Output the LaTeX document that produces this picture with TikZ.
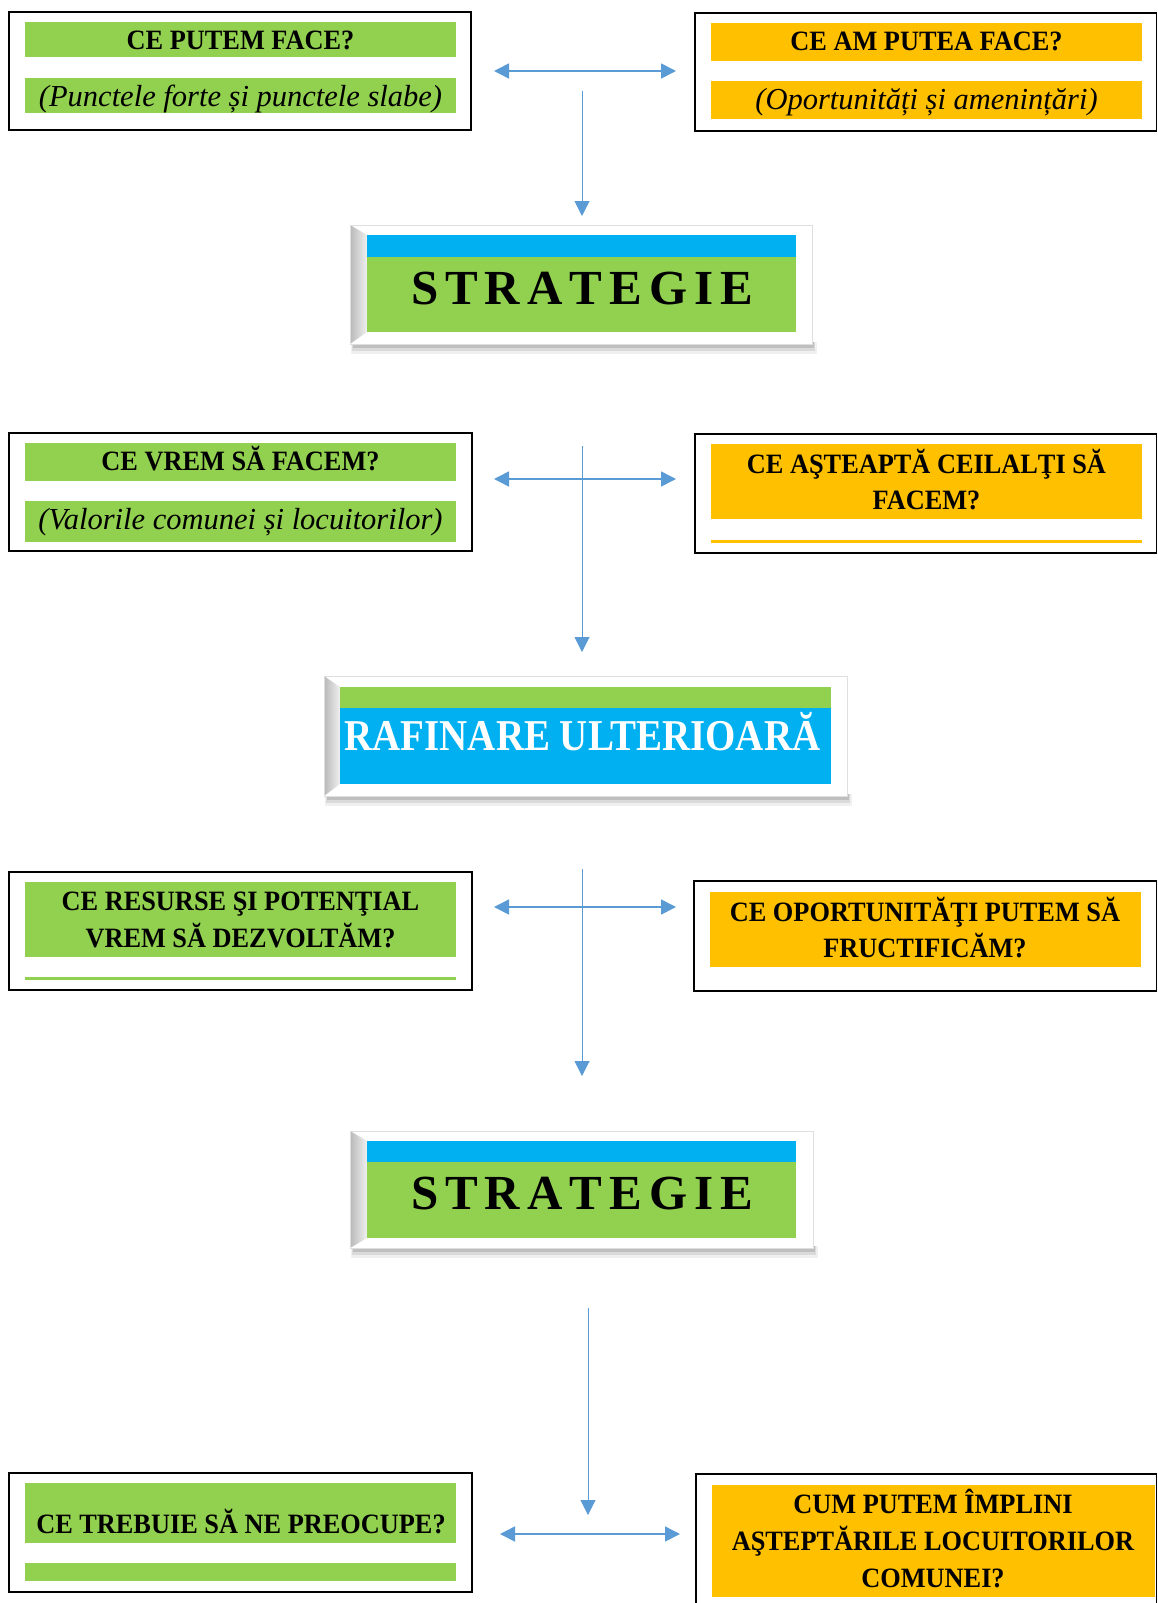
\documentclass[tikz,border=0pt]{standalone}
\usepackage{fontspec}
\setmainfont{Liberation Serif}
\newfontfamily\capfont[FakeStretch=0.94]{Liberation Serif}
\newfontfamily\rafifont[FakeStretch=0.885]{Liberation Serif}
\usetikzlibrary{arrows.meta}
\definecolor{cgreen}{HTML}{92D050}
\definecolor{corange}{HTML}{FFC000}
\definecolor{cblue}{HTML}{00B0F0}
\definecolor{carrow}{HTML}{5B9BD5}
\tikzset{
 qbox/.style={draw=black,line width=1.3pt,fill=white},
 gbar/.style={fill=cgreen},
 obar/.style={fill=corange},
 captxt/.style={anchor=base,inner sep=0pt,font=\capfont\bfseries\fontsize{28}{30}\selectfont},
 ittxt/.style={anchor=base,inner sep=0pt,font=\itshape\fontsize{30.5}{32}\selectfont},
 bigtxt/.style={anchor=base,inner sep=0pt,font=\bfseries\fontsize{49}{50}\selectfont},
 rafitxt/.style={anchor=base,inner sep=0pt,text=white,font=\rafifont\bfseries\fontsize{44}{46}\selectfont},
 harrow/.style={draw=carrow,line width=1.6pt,{Triangle[length=15pt,width=15pt]}-{Triangle[length=15pt,width=15pt]}},
 varrow/.style={draw=carrow,line width=1pt,-{Triangle[length=15pt,width=15pt]}},
}
\newcommand{\bevelfr}[8]{%
 \fill[black,opacity=0.06] (#1+1,#4-2) rectangle (#3+5,#4+10);
 \fill[black,opacity=0.09] (#1+2,#4-2) rectangle (#3+3,#4+7);
 \fill[black,opacity=0.12] (#1+3,#4-2) rectangle (#3+2,#4+4);
 \fill[white] (#1,#2) rectangle (#3,#4);
 \shade[left color=gray!55,right color=gray!12] (#1,#2) -- (#5,#6) -- (#5,#8) -- (#1,#4) -- cycle;
 \draw[gray!25,line width=0.6pt] (#1,#2) rectangle (#3,#4);
}
\newcommand{\strat}{S\kern7pt T\kern7pt R\kern7pt A\kern7pt T\kern7pt E\kern7pt G\kern7pt I\kern7pt E}
\begin{document}
\begin{tikzpicture}[x=1pt,y=-1pt]
\useasboundingbox (0,0) rectangle (1157,1603);
\clip (0,0) rectangle (1157,1603);
\fill[white] (0,0) rectangle (1157,1603);

% ---- section 1
\draw[qbox] (9,12) rectangle (471,130);
\fill[gbar] (25,22) rectangle (456,57);
\fill[gbar] (25,78) rectangle (456,113);
\node[captxt] (t1a) at (240.5,50) {CE PUTEM FACE?};
\node[ittxt] (t1b) at (240.5,106) {(Punctele forte și punctele slabe)};

\draw[qbox] (695,13) rectangle (1156.3,131);
\fill[obar] (711,23) rectangle (1142,61);
\fill[obar] (711,81) rectangle (1142,119);
\node[captxt] (t2a) at (926.5,51) {CE AM PUTEA FACE?};
\node[ittxt] (t2b) at (926.5,109) {(Oportunități și amenințări)};

\coordinate (h1l) at (494,71);
\coordinate (h1r) at (676,71);
\draw[harrow] (h1l) -- (h1r);
\coordinate (v1t) at (582,91);
\coordinate (v1b) at (582,216);
\draw[varrow] (v1t) -- (v1b);

\bevelfr{350}{225}{812}{344}{367}{235}{796}{332}
\fill[cblue] (367,235) rectangle (796,257);
\fill[cgreen] (367,257) rectangle (796,332);
\node[bigtxt] (s1) at (582,304) {\strat};

% ---- section 2
\draw[qbox] (9,433) rectangle (472,551);
\fill[gbar] (25,443) rectangle (456,481);
\fill[gbar] (25,501) rectangle (456,542);
\node[captxt] (t3a) at (240.5,470) {CE VREM SĂ FACEM?};
\node[ittxt] (t3b) at (240.5,529) {(Valorile comunei și locuitorilor)};

\draw[qbox] (695,434) rectangle (1156.3,553);
\fill[obar] (711,444) rectangle (1142,519);
\fill[obar] (711,540) rectangle (1142,543);
\node[captxt] (t4a) at (926.5,473) {CE AŞTEAPTĂ CEILALŢI SĂ};
\node[captxt] (t4b) at (926.5,509) {FACEM?};

\coordinate (h2l) at (494,479);
\coordinate (h2r) at (676,479);
\draw[harrow] (h2l) -- (h2r);
\coordinate (v2t) at (582,446);
\coordinate (v2b) at (582,652);
\draw[varrow] (v2t) -- (v2b);

\bevelfr{324}{676}{847}{796}{340}{687}{831}{784}
\fill[cgreen] (340,687) rectangle (831,708);
\fill[cblue] (340,708) rectangle (831,784);
\node[rafitxt] (r1) at (582.5,750) {RAFINARE ULTERIOARĂ};

% ---- section 3
\draw[qbox] (9,872) rectangle (472,990);
\fill[gbar] (25,882) rectangle (456,957);
\fill[gbar] (25,977) rectangle (456,980);
\node[captxt] (t5a) at (240.5,910) {CE RESURSE ŞI POTENŢIAL};
\node[captxt] (t5b) at (240.5,947) {VREM SĂ DEZVOLTĂM?};

\draw[qbox] (694,881) rectangle (1156.3,991);
\fill[obar] (710,892) rectangle (1141,967);
\node[captxt] (t6a) at (925,921) {CE OPORTUNITĂŢI PUTEM SĂ};
\node[captxt] (t6b) at (925,957) {FRUCTIFICĂM?};

\coordinate (h3l) at (494,907);
\coordinate (h3r) at (676,907);
\draw[harrow] (h3l) -- (h3r);
\coordinate (v3t) at (582,869);
\coordinate (v3b) at (582,1076);
\draw[varrow] (v3t) -- (v3b);

\bevelfr{350}{1131}{813}{1248}{367}{1141}{796}{1238}
\fill[cblue] (367,1141) rectangle (796,1162);
\fill[cgreen] (367,1162) rectangle (796,1238);
\node[bigtxt] (s2) at (582,1209) {\strat};

% ---- section 4
\coordinate (v4t) at (588,1308);
\coordinate (v4b) at (588,1515);
\draw[varrow] (v4t) -- (v4b);
\coordinate (h4l) at (500,1534);
\coordinate (h4r) at (680,1534);
\draw[harrow] (h4l) -- (h4r);

\draw[qbox] (9,1473) rectangle (472,1592);
\fill[gbar] (25,1483) rectangle (456,1543);
\fill[gbar] (25,1563) rectangle (456,1581);
\node[captxt] (t7a) at (241,1533) {CE TREBUIE SĂ NE PREOCUPE?};

\draw[qbox] (696,1474) rectangle (1156.3,1615);
\fill[obar] (712,1485) rectangle (1155,1597);
\node[captxt] (t8a) at (933,1513) {CUM PUTEM ÎMPLINI};
\node[captxt] (t8b) at (933,1550) {AŞTEPTĂRILE LOCUITORILOR};
\node[captxt] (t8c) at (933,1587) {COMUNEI?};
\end{tikzpicture}
\end{document}
